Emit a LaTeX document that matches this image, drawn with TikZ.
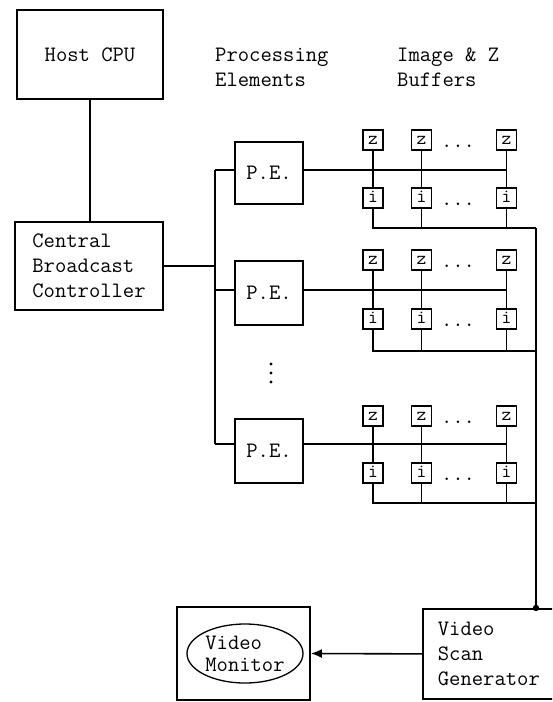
\documentclass[tikz,border=0pt]{standalone}
\usepackage{tikz}
\usetikzlibrary{shapes.geometric,arrows.meta}

\begin{document}
\begin{tikzpicture}[
  x=1pt, y=-1pt,
  font=\ttfamily\fontsize{22}{25}\selectfont,
  b/.style={draw, line width=1.8pt, inner sep=0pt, align=left},
  buf/.style={draw, line width=1.7pt, inner sep=0pt, minimum width=20pt, minimum height=20pt,
              text height=8.5pt, text depth=0pt, font=\ttfamily\fontsize{19}{19}\selectfont},
  ln/.style={line width=1.6pt},
  ar/.style={-{Latex[length=11pt,width=9pt]}, line width=1.6pt},
  lbl/.style={anchor=north west, inner sep=0pt, align=left}
]
\path[use as bounding box] (0,0) rectangle (552,702);
\clip (0,0) rectangle (552,702);

% host and controller
\node[b, minimum width=146pt, minimum height=89pt] (host) at (90,54.5) {Host CPU};
\node[b, minimum width=148pt, minimum height=88pt] (cbc) at (89,266) {Central\\Broadcast\\Controller};
\draw[ln] (host.south) -- (host.south |- cbc.north);

% column headings
\node[lbl] (pehead) at (215,48) {Processing\\Elements};
\node[lbl] (bufhead) at (397,48) {Image \& Z\\Buffers};

% processing elements
\node[b, minimum width=68pt, minimum height=62pt] (pe1) at (269,173) {P.E.};
\node[b, minimum width=68pt, minimum height=64pt] (pe2) at (269,293) {P.E.};
\node[b, minimum width=68pt, minimum height=64pt] (pe3) at (269,451) {P.E.};
\foreach \y in {364,373,382} \fill (271,\y) circle (1.6pt);

\coordinate (w1) at (215,170);
\coordinate (w2) at (215,290);
\coordinate (w3) at (215,444);
\draw[ln] (w1) -- (w3);
\draw[ln] (cbc.east) -- (cbc.east -| w1);
\foreach \r in {1,2,3} \draw[ln] (w\r) -- (w\r -| pe\r.west);

% image and z buffers, one row per P.E.
\foreach \r/\zy/\iy/\by in {1/140/198/228, 2/260/319/351, 3/416/473/503} {
  \foreach \c/\cx in {1/373, 2/421.5, 3/506.5} {
    \node[buf] (z\r\c) at (\cx,\zy) {z};
    \node[buf] (i\r\c) at (\cx,\iy) {i};
    \draw[ln] (z\r\c) -- (i\r\c);
  }
  \node[anchor=base, inner sep=0pt] (dz\r) at (458,\zy+7) {...};
  \node[anchor=base, inner sep=0pt] (di\r) at (458,\iy+7) {...};
  \coordinate (bus\r) at (536,\by);
  \draw[ln] (w\r -| pe\r.east) -- (w\r -| z\r3);
  \draw[ln] (i\r1.south) |- (bus\r);
  \draw[ln] (i\r2.south) -- (i\r2.south |- bus\r);
  \draw[ln] (i\r3.south) -- (i\r3.south |- bus\r);
}

% video output
\node[b, anchor=north west, text width=112pt, inner xsep=15pt, minimum height=90pt] (vsg) at (422,608) {Video\\Scan\\Generator};
\draw[ln] (bus1) -- (bus1 |- vsg.north);
\fill (bus1 |- vsg.north) circle (3.2pt);

\node[b, minimum width=133pt, minimum height=93pt] (monbox) at (243.5,653.5) {};
\node[b, ellipse, line width=1.3pt, minimum width=116pt, minimum height=59pt,
      font=\ttfamily\fontsize{22}{22}\selectfont] (mon) at (245,653.5) {Video\\Monitor};
\draw[ar] (vsg.west) -- (monbox.east);
\end{tikzpicture}
\end{document}
